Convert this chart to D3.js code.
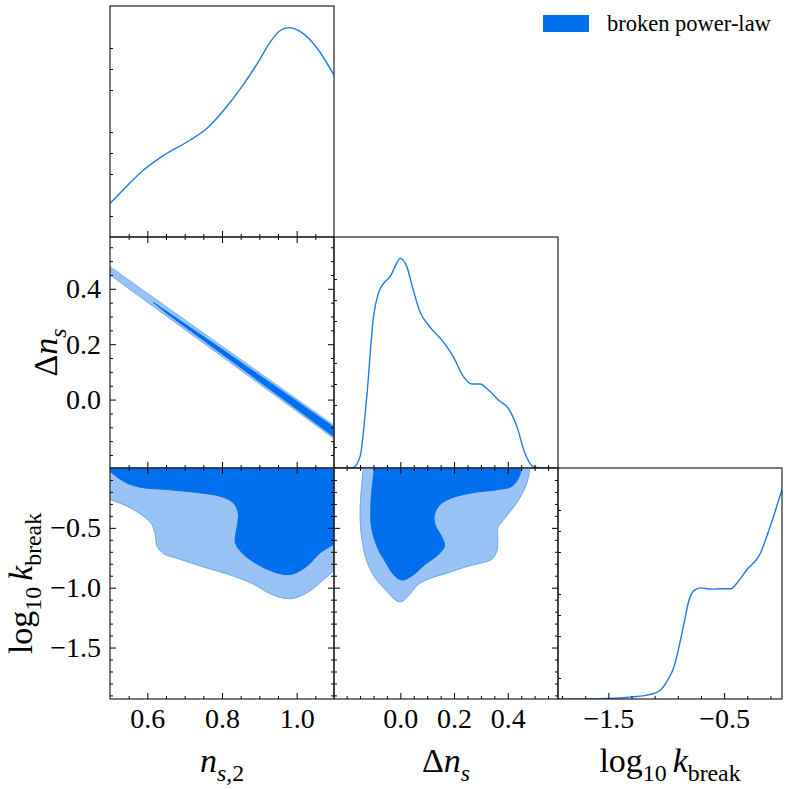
<!DOCTYPE html>
<html>
<head>
<meta charset="utf-8">
<script src="https://cdn.jsdelivr.net/npm/d3@7"></script>
<style>
  body { margin: 0; background: #fff; }
  text { font-family: "Liberation Serif", "DejaVu Serif", serif; }
</style>
</head>
<body>
<svg id="chart" width="789" height="789"></svg>
<script>
// ---- 1D marginals (density normalised to peak 1) ----
const nsGrid = [0.50, 0.535, 0.59, 0.645, 0.715, 0.76, 0.805, 0.85, 0.895, 0.93, 0.955, 0.98, 1.01, 1.055, 1.10];
const nsDens = [0.16, 0.224, 0.319, 0.39, 0.462, 0.518, 0.605, 0.708, 0.827, 0.93, 0.982, 0.997, 0.978, 0.899, 0.771];

const dnGrid = [-0.247, -0.2, -0.175, -0.15, -0.125, -0.1, -0.082, -0.057, -0.038, -0.02, 0, 0.024, 0.048, 0.073, 0.104, 0.154, 0.197, 0.235, 0.266, 0.297, 0.328, 0.365, 0.402, 0.434, 0.464, 0.495, 0.53, 0.587];
const dnDens = [0, 0, 0.003, 0.054, 0.34, 0.72, 0.832, 0.887, 0.911, 0.959, 0.998, 0.959, 0.848, 0.744, 0.681, 0.61, 0.53, 0.435, 0.40, 0.40, 0.371, 0.324, 0.284, 0.197, 0.07, 0.006, 0, 0];

const kGrid = [-1.935, -1.5, -1.297, -1.137, -1.05, -0.992, -0.935, -0.891, -0.848, -0.804, -0.761, -0.703, -0.616, -0.514, -0.442, -0.384, -0.297, -0.196, -0.094, 0];
const kDens = [0, 0.003, 0.01, 0.022, 0.042, 0.086, 0.15, 0.245, 0.357, 0.469, 0.516, 0.529, 0.523, 0.525, 0.525, 0.556, 0.62, 0.684, 0.835, 0.998];

// ---- 2D contours (68% dark, 95% light) ----
// n_s,2 vs Delta n_s : narrow degenerate band
const bandLight = [[0.5, 0.480], [0.8, 0.193], [1.1, -0.093], [1.1, -0.141], [0.8, 0.155], [0.5, 0.450]];
const bandDark  = [[0.615, 0.352], [0.8, 0.182], [1.1, -0.100], [1.1, -0.134], [0.8, 0.165], [0.65, 0.313]];

// n_s,2 vs log10 k_break : lower boundary, region extends to top of panel
const nsK95 = [[0.5, -0.263], [0.545, -0.319], [0.59, -0.403], [0.612, -0.472], [0.621, -0.555], [0.626, -0.653], [0.644, -0.717], [0.68, -0.755], [0.742, -0.819], [0.831, -0.903], [0.885, -0.972], [0.929, -1.05], [0.965, -1.088], [0.992, -1.088], [1.028, -1.042], [1.063, -0.958], [1.1, -0.855]];
const nsK68 = [[0.5, -0.028], [0.536, -0.111], [0.581, -0.161], [0.653, -0.18], [0.742, -0.208], [0.795, -0.236], [0.831, -0.292], [0.844, -0.388], [0.84, -0.5], [0.836, -0.625], [0.858, -0.722], [0.912, -0.833], [0.965, -0.889], [0.992, -0.883], [1.028, -0.819], [1.063, -0.708], [1.1, -0.638]];

// Delta n_s vs log10 k_break : closed against the top edge
const dnK95 = [[-0.138, 0], [-0.150, -0.361], [-0.144, -0.583], [-0.125, -0.778], [-0.094, -0.917], [-0.051, -1.028], [-0.013, -1.111], [0.005, -1.117], [0.03, -1.069], [0.067, -0.972], [0.117, -0.917], [0.179, -0.875], [0.241, -0.828], [0.303, -0.792], [0.34, -0.764], [0.359, -0.694], [0.363, -0.583], [0.363, -0.5], [0.39, -0.417], [0.433, -0.292], [0.464, -0.167], [0.479, -0.055], [0.481, 0]];
const dnK68 = [[-0.096, 0], [-0.109, -0.278], [-0.107, -0.5], [-0.082, -0.681], [-0.057, -0.778], [-0.026, -0.889], [0.005, -0.936], [0.042, -0.903], [0.092, -0.806], [0.142, -0.722], [0.164, -0.653], [0.156, -0.583], [0.129, -0.472], [0.127, -0.389], [0.148, -0.305], [0.191, -0.25], [0.266, -0.208], [0.365, -0.18], [0.415, -0.153], [0.44, -0.083], [0.452, 0]];

// ---- ticks ----
const nsMajor = [0.6, 0.8, 1.0];
const nsMinor = [0.55, 0.65, 0.7, 0.75, 0.85, 0.9, 0.95, 1.05];
const dnMajor = [0, 0.2, 0.4];
const dnMinor = [-0.2, -0.15, -0.1, -0.05, 0.05, 0.1, 0.15, 0.25, 0.3, 0.35, 0.45, 0.5, 0.55];
const kYMajor = [-0.5, -1.0, -1.5];
const kYMinor = [-0.1, -0.2, -0.3, -0.4, -0.6, -0.7, -0.8, -0.9, -1.1, -1.2, -1.3, -1.4, -1.6, -1.7, -1.8, -1.9];
const kXMajor = [-1.5, -0.5];
const kXMinor = [-1.9, -1.7, -1.3, -1.1, -0.9, -0.7, -0.3, -0.1];
const densMinor = [0.1, 0.3, 0.4, 0.5, 0.7, 0.8, 0.9];

const legendLabel = "broken power-law";

// ---- layout ----
const padL = 110, padT = 6, pw = 224, ph = 231;
const dark = "#006FED", light = "#99C3F6", lightEdge = "#6AA6F0";
const fmt = d3.format(".1f");

const svg = d3.select("#chart");

const xNs = d3.scaleLinear([0.5, 1.1], [0, pw]);
const xDn = d3.scaleLinear([-0.247, 0.587], [0, pw]);
const xK  = d3.scaleLinear([-1.935, 0], [0, pw]);
const yDn = d3.scaleLinear([-0.247, 0.587], [ph, 0]);
const yK  = d3.scaleLinear([-1.93, 0], [ph, 0]);
const yDens = d3.scaleLinear([0, 1.1], [ph, 0]);

let clipId = 0;
function panel(row, col) {
  const g = svg.append("g").attr("transform", `translate(${padL + col * pw},${padT + row * ph})`);
  const id = "clip" + (clipId++);
  g.append("clipPath").attr("id", id).append("rect").attr("width", pw).attr("height", ph);
  const plot = g.append("g").attr("clip-path", `url(#${id})`);
  return { g, plot };
}

function ticks(g, scale, side, major, minor, labels) {
  const make = { bottom: d3.axisBottom, top: d3.axisTop, left: d3.axisLeft, right: d3.axisRight }[side];
  const pos = side === "bottom" ? [0, ph] : side === "right" ? [pw, 0] : [0, 0];
  [[minor, 3, false], [major, 6, labels]].forEach(([vals, len, lab]) => {
    if (!vals.length) return;
    const a = g.append("g").attr("transform", `translate(${pos})`)
      .call(make(scale).tickValues(vals).tickSize(-len).tickPadding(9).tickFormat(lab ? fmt : ""));
    a.select(".domain").remove();
    a.attr("font-family", null).attr("font-size", 28);
    a.selectAll("line").attr("stroke", "#000").attr("stroke-width", 1);
    a.selectAll("text").attr("fill", "#000");
  });
}

function frame(g) {
  g.append("rect").attr("width", pw).attr("height", ph)
    .attr("fill", "none").attr("stroke", "#222").attr("stroke-width", 1.2);
}

function diag(row, col, xs, grid, dens, major, minor, labels) {
  const p = panel(row, col);
  const line = d3.line().x((d, i) => xs(grid[i])).y(d => yDens(d)).curve(d3.curveMonotoneX);
  p.plot.append("path").attr("d", line(dens)).attr("fill", "none")
    .attr("stroke", "#1E7BEA").attr("stroke-width", 1.4);
  ticks(p.g, yDens, "left", [], densMinor, false);
  ticks(p.g, xs, "bottom", major, minor, labels);
  frame(p.g);
}

// boundary curve + straight closing corners
function region(plot, pts, xs, ys, corners, fill, edge) {
  const curve = d3.line().x(d => xs(d[0])).y(d => ys(d[1])).curve(d3.curveCatmullRom.alpha(0.5));
  const tail = corners.map(c => `L${xs(c[0])},${ys(c[1])}`).join("");
  plot.append("path").attr("d", curve(pts) + tail + "Z").attr("fill", fill).attr("stroke", "none");
  plot.append("path").attr("d", curve(pts)).attr("fill", "none").attr("stroke", edge).attr("stroke-width", 1);
}

// diagonal panels
diag(0, 0, xNs, nsGrid, nsDens, nsMajor, nsMinor, false);
diag(1, 1, xDn, dnGrid, dnDens, dnMajor, dnMinor, false);
diag(2, 2, xK, kGrid, kDens, kXMajor, kXMinor, true);

// n_s,2 vs Delta n_s
{
  const p = panel(1, 0);
  const poly = d3.line().x(d => xNs(d[0])).y(d => yDn(d[1]));
  p.plot.append("path").attr("d", poly(bandLight) + "Z").attr("fill", light).attr("stroke", lightEdge).attr("stroke-width", 0.8);
  p.plot.append("path").attr("d", poly(bandDark) + "Z").attr("fill", dark).attr("stroke", dark).attr("stroke-width", 0.8);
  ticks(p.g, yDn, "left", dnMajor, dnMinor, true);
  ticks(p.g, yDn, "right", dnMajor, dnMinor, false);
  ticks(p.g, xNs, "bottom", nsMajor, nsMinor, false);
  ticks(p.g, xNs, "top", nsMajor, nsMinor, false);
  frame(p.g);
}

// n_s,2 vs log10 k_break
{
  const p = panel(2, 0);
  const corners = [[1.1, 0.02], [0.5, 0.02]];
  region(p.plot, nsK95, xNs, yK, corners, light, lightEdge);
  region(p.plot, nsK68, xNs, yK, corners, dark, dark);
  ticks(p.g, yK, "left", kYMajor, kYMinor, true);
  ticks(p.g, yK, "right", kYMajor, kYMinor, false);
  ticks(p.g, xNs, "bottom", nsMajor, nsMinor, true);
  ticks(p.g, xNs, "top", nsMajor, nsMinor, false);
  frame(p.g);
}

// Delta n_s vs log10 k_break
{
  const p = panel(2, 1);
  region(p.plot, dnK95, xDn, yK, [], light, lightEdge);
  region(p.plot, dnK68, xDn, yK, [], dark, dark);
  ticks(p.g, yK, "left", kYMajor, kYMinor, false);
  ticks(p.g, yK, "right", kYMajor, kYMinor, false);
  ticks(p.g, xDn, "bottom", dnMajor, dnMinor, true);
  ticks(p.g, xDn, "top", dnMajor, dnMinor, false);
  frame(p.g);
}

// ---- axis titles ----
function mathText(sel, parts, size) {
  let sub = false;
  parts.forEach(p => {
    const t = sel.append("tspan").text(p.t).attr("font-size", p.sub ? size * 0.7 : size);
    if (p.i) t.attr("font-style", "italic");
    if (p.sub && !sub) t.attr("dy", size * 0.25);
    if (!p.sub && sub) t.attr("dy", -size * 0.25);
    if (p.dx) t.attr("dx", p.dx);
    sub = !!p.sub;
  });
}

const titleSize = 34;
const nsTitle = [{ t: "n", i: true }, { t: "s", i: true, sub: true }, { t: ",2", sub: true }];
const dnTitle = [{ t: "\u0394" }, { t: "n", i: true }, { t: "s", i: true, sub: true }];
const kTitle = [{ t: "log" }, { t: "10", sub: true }, { t: "k", i: true, dx: 6 }, { t: "break", sub: true }];

[[nsTitle, 0], [dnTitle, 1], [kTitle, 2]].forEach(([parts, col]) => {
  const t = svg.append("text").attr("x", padL + col * pw + pw / 2).attr("y", 772)
    .attr("text-anchor", "middle").attr("fill", "#000");
  mathText(t, parts, titleSize);
});

[[dnTitle, 1, 57], [kTitle, 2, 32]].forEach(([parts, row, bx]) => {
  const t = svg.append("text").attr("text-anchor", "middle").attr("fill", "#000")
    .attr("transform", `translate(${bx},${padT + row * ph + ph / 2}) rotate(-90)`);
  mathText(t, parts, titleSize);
});

// ---- legend ----
svg.append("rect").attr("x", 543).attr("y", 15).attr("width", 46).attr("height", 17).attr("fill", dark);
svg.append("text").attr("x", 607).attr("y", 31).attr("font-size", 22.5).attr("fill", "#000").text(legendLabel);
</script>
</body>
</html>
